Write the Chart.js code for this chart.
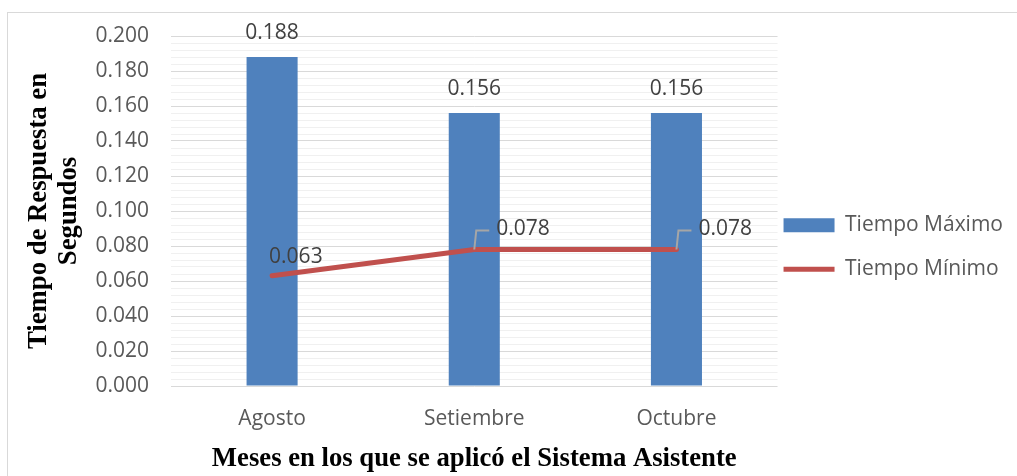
<!DOCTYPE html>
<html>
<head>
<meta charset="utf-8">
<script src="https://cdn.jsdelivr.net/npm/chart.js@4.4.1/dist/chart.umd.min.js"></script>
<style>
  html, body { margin: 0; padding: 0; background: #fff; overflow: hidden; }
  #box { position: absolute; left: 7px; top: 12px; width: 1024px; height: 468px; border: 1px solid #d9d9d9; overflow: hidden; }
  #box canvas { display: block; }
</style>
</head>
<body>
<div id="box"><canvas id="chart" width="1022" height="468"></canvas></div>
<script>
const categories = ["Agosto", "Setiembre", "Octubre"];
const tiempoMaximo = [0.188, 0.156, 0.156];
const tiempoMinimo = [0.063, 0.078, 0.078];
const yMin = 0;
const yMax = 0.2;
const yMinorStep = 0.004;   // minor gridlines
const yMajorEvery = 5;      // label every 0.020

const tickFont = { family: "'Open Sans'", size: 21 };
const titleFont = { family: "'Liberation Serif'", size: 26.7, weight: "bold", lineHeight: 1.12 };

// value labels (above bars, leader lines for the line series)
const valueLabels = {
  id: "valueLabels",
  afterLayout(chart) {
    // pull legend closer to the plot, like the original
    chart.legend.left -= 17;
    chart.legend.top -= 2;
    chart.legend.bottom -= 2;
  },
  afterDatasetsDraw(chart) {
    const ctx = chart.ctx;
    ctx.save();
    ctx.font = "21px 'Open Sans'";
    ctx.fillStyle = "#404040";
    ctx.textBaseline = "middle";

    const barMeta = chart.getDatasetMeta(0);
    barMeta.data.forEach((bar, i) => {
      ctx.textAlign = "center";
      ctx.fillText(tiempoMaximo[i].toFixed(3), bar.x, bar.y - 24);
    });

    const lineMeta = chart.getDatasetMeta(1);
    lineMeta.data.forEach((pt, i) => {
      const txt = tiempoMinimo[i].toFixed(3);
      ctx.textAlign = "left";
      if (i === 0) {
        ctx.fillText(txt, pt.x - 3, pt.y - 19);
      } else {
        ctx.strokeStyle = "#a6a6a6";
        ctx.lineWidth = 2;
        ctx.beginPath();
        ctx.moveTo(pt.x, pt.y);
        ctx.lineTo(pt.x + 2, pt.y - 19);
        ctx.lineTo(pt.x + 15, pt.y - 19);
        ctx.stroke();
        ctx.fillText(txt, pt.x + 22, pt.y - 20);
      }
    });
    ctx.restore();
  }
};

new Chart(document.getElementById("chart"), {
  data: {
    labels: categories,
    datasets: [
      {
        type: "bar",
        label: "Tiempo Máximo",
        data: tiempoMaximo,
        backgroundColor: "#4f81bd",
        borderWidth: 0,
        categoryPercentage: 0.5,
        barPercentage: 0.505,
        pointStyle: "rect",
        order: 2
      },
      {
        type: "line",
        label: "Tiempo Mínimo",
        data: tiempoMinimo,
        borderColor: "#c0504d",
        backgroundColor: "#c0504d",
        borderWidth: 5,
        borderCapStyle: "round",
        pointRadius: 0,
        pointStyle: "line",
        tension: 0,
        order: 1
      }
    ]
  },
  options: {
    responsive: false,
    animation: false,
    layout: { padding: { left: 0, top: 11.4, right: 0, bottom: 7 } },
    plugins: {
      tooltip: { enabled: false },
      legend: {
        position: "right",
        labels: {
          sort: (a, b) => a.datasetIndex - b.datasetIndex,
          usePointStyle: true,
          pointStyleWidth: 51,
          boxHeight: 14,
          padding: 23,
          color: "#595959",
          font: tickFont
        }
      }
    },
    scales: {
      x: {
        afterFit: s => { s.height = 88; },
        grid: { display: false, drawTicks: false },
        border: { display: false },
        ticks: { color: "#595959", font: tickFont, padding: 20 },
        title: {
          display: true,
          text: "Meses en los que se aplicó el Sistema Asistente",
          color: "#000",
          font: titleFont,
          padding: { top: 10, bottom: 0 }
        }
      },
      y: {
        min: yMin,
        max: yMax,
        afterFit: s => { s.width = 163; s.paddingTop = 23; },
        border: { display: false },
        grid: {
          drawTicks: false,
          color: c => (c.index % yMajorEvery === 0 ? "#d9d9d9" : "#f0f0f0"),
          lineWidth: 1
        },
        ticks: {
          stepSize: yMinorStep,
          autoSkip: false,
          color: "#595959",
          font: tickFont,
          padding: 22,
          callback: (v, i) => (i % yMajorEvery === 0 ? Number(v).toFixed(3) : "")
        },
        title: {
          display: true,
          text: ["Tiempo de Respuesta en", "Segundos"],
          color: "#000",
          font: titleFont,
          padding: { top: 16, bottom: 11 }
        }
      }
    }
  },
  plugins: [valueLabels]
});
</script>
</body>
</html>
